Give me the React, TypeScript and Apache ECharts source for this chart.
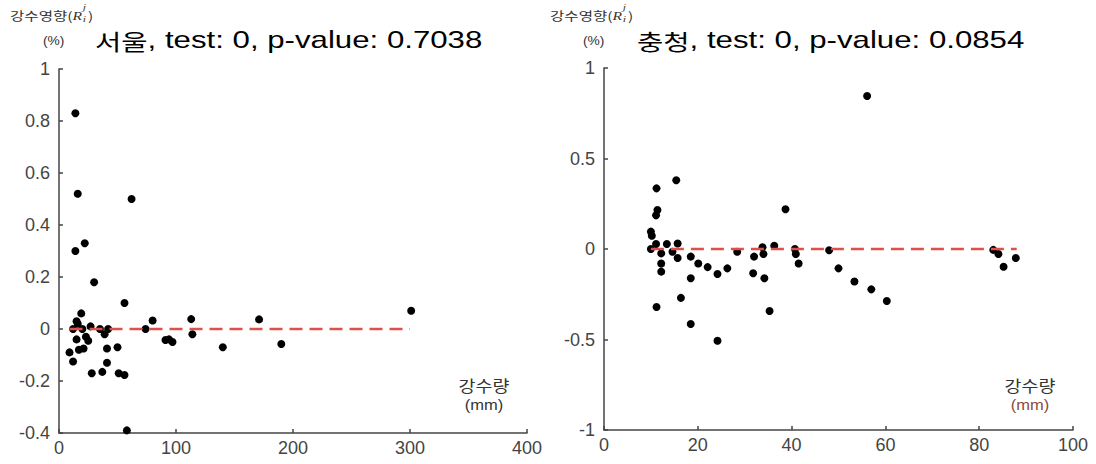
import React, { useEffect, useRef } from "react";
import * as echarts from "echarts";

// 서울 (Seoul) scatter: precipitation (mm) vs precipitation effect (%)
const seoulX = [14, 16, 62, 14, 22, 30, 56, 19, 15, 16, 12, 20, 27, 35, 42, 39, 15, 23, 25, 9, 17, 21, 12, 41, 50, 41, 28, 37, 51, 56, 58, 74, 80, 91, 94, 97, 113, 114, 140, 171, 190, 301];
const seoulY = [0.83, 0.52, 0.5, 0.3, 0.33, 0.18, 0.1, 0.06, 0.03, 0.02, 0.0, 0.0, 0.01, 0.0, 0.0, -0.02, -0.04, -0.03, -0.045, -0.09, -0.08, -0.075, -0.125, -0.075, -0.07, -0.13, -0.17, -0.165, -0.17, -0.177, -0.39, 0.0, 0.033, -0.042, -0.04, -0.05, 0.038, -0.02, -0.07, 0.037, -0.058, 0.07];
const seoulLineX = [9, 300];
const seoulLineY = [0, 0];

// 충청 (Chungcheong) scatter
const chungX = [11.2, 15.4, 11.4, 11.1, 10, 10.2, 10, 11.1, 13.4, 15.7, 14.6, 15.7, 12.2, 12.2, 12.2, 11.2, 16.4, 18.5, 20.1, 22.1, 24.2, 26.3, 28.4, 18.5, 18.5, 24.2, 32, 31.8, 33.8, 34, 34.2, 35.3, 36.3, 38.7, 40.7, 40.9, 41.5, 48, 50, 53.4, 57, 60.3, 83, 84.1, 85.2, 87.8, 56.1];
const chungY = [0.335, 0.38, 0.215, 0.186, 0.096, 0.073, 0, 0.028, 0.028, 0.03, -0.015, -0.05, -0.024, -0.08, -0.125, -0.32, -0.27, -0.042, -0.08, -0.1, -0.138, -0.107, -0.015, -0.162, -0.414, -0.507, -0.042, -0.134, 0.01, -0.028, -0.162, -0.343, 0.018, 0.22, 0, -0.028, -0.08, -0.007, -0.107, -0.18, -0.223, -0.287, -0.005, -0.028, -0.098, -0.05, 0.845];
const chungLineX = [10, 88];
const chungLineY = [0, 0];

const titles = ["서울", "충청"];
const testVals = ["0", "0"];
const pValues = ["0.7038", "0.0854"];
const yAxisName = "강수영향(";
const xAxisName = ["강수량", "(mm)"];

const FONT = "'Liberation Sans', Arial, sans-serif";
const KFONT = "'Noto Sans CJK KR', sans-serif";
const SERIF = "'Liberation Serif', 'Times New Roman', serif";

function zip(xs: number[], ys: number[]) {
  return xs.map((x, i) => [x, ys[i]]);
}

export default function App() {
  const ref = useRef<HTMLDivElement>(null);
  useEffect(() => {
    document.body.style.margin = "0";
    const chart = echarts.init(ref.current!, null, { renderer: "svg" });
    const axisLine = { show: true, onZero: false, lineStyle: { color: "#444", width: 1.5 } };
    const axisTick = { show: true, inside: true, length: 4, lineStyle: { color: "#444", width: 1.5 } };
    const axisLabel = { color: "#444", fontSize: 18, fontFamily: FONT };
    const xAxisBase = (gi: number, max: number, interval: number) => ({
      type: "value",
      gridIndex: gi,
      min: 0,
      max,
      interval,
      axisLine,
      axisTick,
      axisLabel: { ...axisLabel, margin: 6 },
      splitLine: { show: false },
    });
    const yAxisBase = (gi: number, min: number, max: number, interval: number) => ({
      type: "value",
      gridIndex: gi,
      min,
      max,
      interval,
      axisLine,
      axisTick,
      axisLabel: { ...axisLabel, margin: 9 },
      splitLine: { show: false },
    });
    const dashed = { color: "#e0504a", width: 2.5, type: [13, 7] };
    const scatterStyle = { color: "#000", opacity: 1 };

    const yNameGraphics = (ox: number) => [
      {
        type: "group",
        x: ox + 10,
        y: 0,
        scaleX: 1.3,
        children: [
          { type: "text", x: 0, y: 10, style: { text: yAxisName, font: `12px ${KFONT}`, fill: "#333" } },
          { type: "text", x: 48, y: 10, style: { text: "R", font: `italic 12px ${SERIF}`, fill: "#333" } },
          { type: "text", x: 56, y: 2, style: { text: "j", font: `italic 9px ${SERIF}`, fill: "#333" } },
          { type: "text", x: 56, y: 14, style: { text: "i", font: `italic 9px ${SERIF}`, fill: "#333" } },
          { type: "text", x: 60, y: 10, style: { text: ")", font: `12px ${KFONT}`, fill: "#333" } },
        ],
      },
      { type: "text", x: ox + 43, y: 35, scaleX: 1.15, style: { text: "(%)", font: `12px ${FONT}`, fill: "#333" } },
    ];
    const xNameGraphics = (cx: number, mmColor: string) => [
      { type: "text", x: cx, y: 385, scaleX: 1.15, style: { text: xAxisName[0], font: `16px ${KFONT}`, fill: "#333", textAlign: "center", textVerticalAlign: "middle", verticalAlign: "middle" } },
      { type: "text", x: cx, y: 405, scaleX: 1.1, style: { text: xAxisName[1], font: `15px ${FONT}`, fill: mmColor, textAlign: "center", textVerticalAlign: "middle", verticalAlign: "middle" } },
    ];

    const titleRich = {
      k: { fontFamily: KFONT, fontSize: 22, color: "#555", fontWeight: "normal" },
      t: { fontFamily: FONT, fontSize: 24, color: "#111", fontWeight: "normal" },
    };
    const titleGraphics = (x: number, i: number) => ({
      type: "text",
      x,
      y: 40,
      scaleX: 1.3,
      style: {
        text: `{k|${titles[i]}}{t|, test: ${testVals[i]}, p-value: ${pValues[i]}}`,
        rich: titleRich,
        textVerticalAlign: "middle",
        verticalAlign: "middle",
      },
    });

    chart.setOption({
      animation: false,
      backgroundColor: "#fff",
      grid: [
        { left: 59, right: 569, top: 69, bottom: 31 },
        { left: 604, right: 23, top: 68, bottom: 34 },
      ],
      xAxis: [xAxisBase(0, 400, 100), xAxisBase(1, 100, 20)],
      yAxis: [yAxisBase(0, -0.4, 1, 0.2), yAxisBase(1, -1, 1, 0.5)],
      graphic: [
        titleGraphics(95, 0),
        titleGraphics(637, 1),
        ...yNameGraphics(0),
        ...yNameGraphics(540),
        ...xNameGraphics(484, "#333"),
        ...xNameGraphics(1030, "#8a4b3c"),
      ],
      series: [
        { type: "scatter", xAxisIndex: 0, yAxisIndex: 0, data: zip(seoulX, seoulY), symbolSize: 8, itemStyle: scatterStyle, z: 2 },
        { type: "line", xAxisIndex: 0, yAxisIndex: 0, data: zip(seoulLineX, seoulLineY), symbol: "none", lineStyle: dashed, z: 3 },
        { type: "scatter", xAxisIndex: 1, yAxisIndex: 1, data: zip(chungX, chungY), symbolSize: 8, itemStyle: scatterStyle, z: 2 },
        { type: "line", xAxisIndex: 1, yAxisIndex: 1, data: zip(chungLineX, chungLineY), symbol: "none", lineStyle: dashed, z: 3 },
      ],
    } as any);
    return () => chart.dispose();
  }, []);
  return <div ref={ref} style={{ width: 1096, height: 464 }} />;
}
